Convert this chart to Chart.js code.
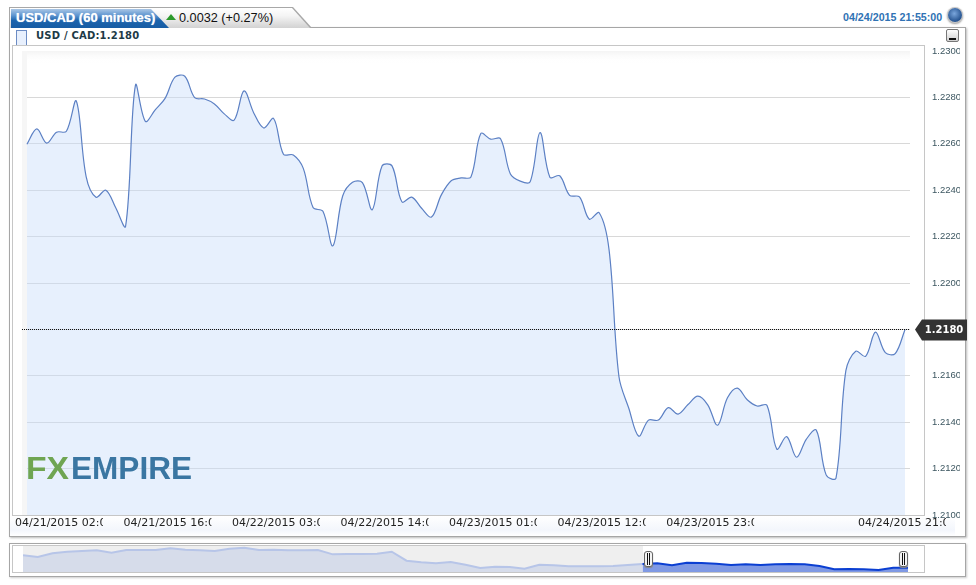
<!DOCTYPE html>
<html>
<head>
<meta charset="utf-8">
<title>USD/CAD (60 minutes)</title>
<script src="https://cdn.jsdelivr.net/npm/chart.js@4/dist/chart.umd.min.js"></script>
<style>
  html, body { margin: 0; padding: 0; background: #fff; overflow: hidden; }
  #page { position: relative; width: 976px; height: 585px; overflow: hidden; }
  #page div, #page span { position: absolute; box-sizing: border-box; }
  canvas { position: absolute; }

  /* tabs */
  #tabShadow { left: 9px; top: 7px; width: 303px; height: 21px; background: #a8a8a8;
    clip-path: polygon(0 0, 284px 0, 303px 21px, 0 21px); }
  #tabGray { left: 10px; top: 8px; width: 300px; height: 20px;
    background: linear-gradient(#ffffff, #f4f4f4 40%, #d2d2d2);
    clip-path: polygon(0 0, 282px 0, 300px 20px, 0 20px); }
  #tabBlue { left: 11px; top: 9px; width: 158px; height: 19px;
    background: linear-gradient(#a9c6e6, #5b93cf 35%, #1c64ad 60%, #175ca4);
    clip-path: polygon(0 0, 140px 0, 158px 19px, 0 19px); }
  #tabTitle { left: 16px; top: 10px; font: bold 13px "Liberation Sans", sans-serif; color: #fff;
    white-space: nowrap; text-shadow: 0 0 1px #cfe0f2; }
  #changeArrow { left: 166px; top: 14px; width: 0; height: 0;
    border-left: 5px solid transparent; border-right: 5px solid transparent; border-bottom: 6px solid #2c9a2c; }
  #changeText { left: 179px; top: 11px; font: 12.7px "Liberation Sans", sans-serif; color: #111; white-space: nowrap; }
  #stamp { left: 843px; top: 11px; font: bold 10.7px "Liberation Sans", sans-serif; color: #2f72b4; white-space: nowrap; }
  #globe { left: 948px; top: 8px; width: 14px; height: 14px; border-radius: 50%;
    background: radial-gradient(circle at 45% 40%, #7aa6dc, #24528f 70%, #173a6b);
    box-shadow: 0 0 0 1px #c8c8c8, 0 1px 2px 1px #999; }

  /* main panel */
  #panel { left: 9px; top: 27px; width: 957px; height: 510px; border: 1px solid #a6a6a6;
    background: #fff; box-shadow: 1px 1px 2px #bbb; }
  #axisRow { left: 10px; top: 516px; width: 945px; height: 20px;
    background: linear-gradient(#ffffff, #f3f6fc 70%, #ffffff); }
  #plotFrame { left: 12px; top: 45px; width: 913px; height: 471px; border: 1px solid #c6c6c6; }
  #swatch { left: 16px; top: 30px; width: 11px; height: 15px; background: #e8f0fd;
    border: 1px solid #6c8cc4; border-bottom: none; }
  #seriesName { left: 36px; top: 30px; font: bold 10px "DejaVu Sans", sans-serif; color: #1d3a46; white-space: nowrap; letter-spacing: 0.2px; }
  #minBtn { left: 946px; top: 29px; width: 13px; height: 13px; border: 1px solid #777; border-radius: 2px;
    background: linear-gradient(#fff, #d0d0d0); }
  #minBar { left: 2px; top: 8px; width: 7px; height: 2px; background: #111; }

  /* navigator panel */
  #navPanel { left: 9px; top: 543px; width: 957px; height: 34px; border: 1px solid #a6a6a6; background: #fff;
    box-shadow: 1px 1px 2px #ccc; }
  #navFrame { left: 12px; top: 545px; width: 913px; height: 28px; border: 1px solid #c6c6c6; }
  #navShade { left: 23px; top: 546px; width: 620px; height: 26px; background: #efefef; }
  .handle { top: 551px; width: 9px; height: 16px; border: 1px solid #666; border-radius: 3px;
    background: #f4f4f4; box-shadow: 0 1px 1px #888; }
  .handle span { top: 1px; width: 1px; height: 12px; background: #111; }
</style>
</head>
<body>
<div id="page">
  <div id="panel"></div>
  <div id="tabShadow"></div>
  <div id="tabGray"></div>
  <div id="tabBlue"></div>
  <div id="tabTitle">USD/CAD (60 minutes)</div>
  <div id="changeArrow"></div>
  <div id="changeText">0.0032 (+0.27%)</div>
  <div id="stamp">04/24/2015 21:55:00</div>
  <div id="globe"></div>
  <div id="axisRow"></div>
  <div id="plotFrame"></div>
  <div id="swatch"></div>
  <div id="seriesName">USD / CAD:1.2180</div>
  <div id="minBtn"><div id="minBar"></div></div>

  <div id="navPanel"></div>
  <div id="navFrame"></div>
  <div id="navShade"></div>

  <canvas id="mainChart" width="976" height="585" style="left:0;top:0"></canvas>
  <canvas id="navChart" width="885" height="26" style="left:23px;top:546px"></canvas>

  <div class="handle" style="left:644px"><span style="left:2px"></span><span style="left:4px"></span></div>
  <div class="handle" style="left:899px"><span style="left:2px"></span><span style="left:4px"></span></div>
</div>

<script>
// hourly closes
const closeValues = [
  1.22598, 1.22664, 1.22603, 1.22650, 1.22654, 1.22784, 1.22459, 1.22370, 1.22400, 1.22324,
  1.22245, 1.22853, 1.22697, 1.22746, 1.22796, 1.22887, 1.22891, 1.22799, 1.22793, 1.22772,
  1.22729, 1.22702, 1.22828, 1.22732, 1.22668, 1.22709, 1.22555, 1.22552, 1.22495, 1.22325,
  1.22309, 1.22160, 1.22375, 1.22434, 1.22433, 1.22316, 1.22505, 1.22505, 1.22350, 1.22370,
  1.22322, 1.22284, 1.22380, 1.22441, 1.22453, 1.22457, 1.22644, 1.22620, 1.22622, 1.22470,
  1.22439, 1.22436, 1.22648, 1.22456, 1.22462, 1.22378, 1.22371, 1.22275, 1.22303, 1.22143,
  1.21597, 1.21460, 1.21340, 1.21409, 1.21409, 1.21463, 1.21435, 1.21476, 1.21512, 1.21475,
  1.21387, 1.21505, 1.21547, 1.21497, 1.21470, 1.21473, 1.21284, 1.21338, 1.21249, 1.21327,
  1.21366, 1.21173, 1.21159, 1.21622, 1.21706, 1.21684, 1.21788, 1.21700, 1.21696, 1.21800
];
const tickPoints = [0, 11, 22, 33, 44, 55, 66, 89];
const tickLabels = [
  "04/21/2015 02:00", "04/21/2015 16:00", "04/22/2015 03:00", "04/22/2015 14:00",
  "04/23/2015 01:00", "04/23/2015 12:00", "04/23/2015 23:00", "04/24/2015 21:00"
];
const lastPrice = 1.2180;

// overview strip
const navValues = [
  1.2464, 1.2424, 1.2511, 1.2550, 1.2566, 1.2582, 1.2527, 1.2590, 1.2590, 1.2590,
  1.2630, 1.2598, 1.2582, 1.2566, 1.2622, 1.2645, 1.2590, 1.2598, 1.2582, 1.2582,
  1.2590, 1.2487, 1.2495, 1.2495, 1.2503, 1.2550, 1.2337, 1.2298, 1.2274, 1.2306,
  1.2242, 1.2163, 1.2195, 1.2187, 1.2148, 1.2242, 1.2227, 1.2203, 1.2203, 1.2203,
  1.2211, 1.2235, 1.2258, 1.2274, 1.2227, 1.2290, 1.2282, 1.2266, 1.2235, 1.2250,
  1.2235, 1.2250, 1.2258, 1.2250, 1.2211, 1.2132, 1.2140, 1.2132, 1.2116, 1.2171,
  1.2171
];
const navSelectedFrom = 42;

const categories = closeValues.map((_, i) => i);

// plot background, current price line and tag, date labels, logo
const plotDecor = {
  id: "plotDecor",
  beforeDatasetsDraw(chart) {
    const { ctx, chartArea: a } = chart;
    ctx.save();
    const top = ctx.createLinearGradient(0, a.top, 0, a.top + 12);
    top.addColorStop(0, "#f4f4f4");
    top.addColorStop(1, "rgba(255,255,255,0)");
    ctx.fillStyle = top;
    ctx.fillRect(a.left, a.top, a.right - a.left, 12);
    ctx.fillStyle = "#f6f6f6";
    ctx.fillRect(a.left, a.top, 5, a.bottom - a.top);
    ctx.restore();
  },
  afterDatasetsDraw(chart) {
    const { ctx, chartArea: a, scales } = chart;
    const y = Math.round(scales.y.getPixelForValue(lastPrice)) + 0.5;
    ctx.save();
    ctx.strokeStyle = "#111";
    ctx.setLineDash([1, 1]);
    ctx.beginPath();
    ctx.moveTo(a.left, y);
    ctx.lineTo(a.right, y);
    ctx.stroke();
    ctx.setLineDash([]);

    // price tag
    ctx.fillStyle = "#333";
    ctx.beginPath();
    ctx.moveTo(915, y);
    ctx.lineTo(922, y - 10);
    ctx.lineTo(967, y - 10);
    ctx.lineTo(967, y + 11);
    ctx.lineTo(922, y + 11);
    ctx.closePath();
    ctx.fill();
    ctx.fillStyle = "#fff";
    ctx.font = "bold 10px 'DejaVu Sans'";
    ctx.textAlign = "center";
    ctx.textBaseline = "middle";
    ctx.fillText(lastPrice.toFixed(4), 944, y + 0.5);

    // date labels are cut off on the right like the original widget
    ctx.font = "11px 'DejaVu Sans'";
    ctx.textAlign = "left";
    ctx.fillStyle = "#222";
    tickPoints.forEach((p, i) => {
      const lx = Math.min(scales.x.getPixelForValue(p) - 12, a.right - 52);
      ctx.save();
      ctx.beginPath();
      ctx.rect(lx, 516, 88, 16);
      ctx.clip();
      ctx.fillText(tickLabels[i], lx, 523.5);
      ctx.restore();
    });

    drawLogoWord(ctx, "FX", "#6fa552", 26, 69);
    drawLogoWord(ctx, "EMPIRE", "#3a76a2", 71, 192);
    ctx.restore();
  }
};

function drawLogoWord(ctx, word, color, x0, x1) {
  ctx.save();
  ctx.font = "bold 31px 'Liberation Sans'";
  ctx.textAlign = "left";
  ctx.textBaseline = "alphabetic";
  ctx.fillStyle = color;
  const w = ctx.measureText(word).width;
  ctx.translate(x0, 479);
  ctx.scale((x1 - x0) / w, 1);
  ctx.fillText(word, 0, 0);
  ctx.restore();
}

new Chart(document.getElementById("mainChart"), {
  type: "line",
  data: {
    labels: categories,
    datasets: [{
      data: closeValues,
      borderColor: "#5c80c4",
      borderWidth: 1.2,
      backgroundColor: "rgba(200,220,250,0.43)",
      fill: "start",
      tension: 0.35,
      pointRadius: 0
    }]
  },
  options: {
    responsive: false,
    animation: false,
    layout: { padding: { left: 22, right: 16, top: 51, bottom: 70 } },
    plugins: { legend: { display: false }, tooltip: { enabled: false } },
    scales: {
      x: {
        type: "category",
        offset: true,
        grid: { display: false },
        border: { display: false },
        ticks: { display: false },
        afterFit(s) { s.height = 0; }
      },
      y: {
        position: "right",
        min: 1.21,
        max: 1.23,
        grid: {
          drawTicks: false,
          tickLength: 0,
          color: (c) => (c.index === 0 || c.index === 10 ? "rgba(0,0,0,0)" : "#d8d8d8")
        },
        border: { display: false },
        ticks: {
          stepSize: 0.002,
          padding: 22,
          color: "#3c5660",
          font: { family: "Liberation Sans", size: 9.5 },
          callback: (v) => v.toFixed(4)
        },
        afterFit(s) { s.width = 50; }
      }
    }
  },
  plugins: [plotDecor]
});

new Chart(document.getElementById("navChart"), {
  type: "line",
  data: {
    labels: navValues.map((_, i) => i),
    datasets: [
      {
        data: navValues.map((v, i) => (i >= navSelectedFrom ? v : null)),
        borderColor: "#0b3fd2",
        borderWidth: 2,
        backgroundColor: "#7f99e4",
        fill: "start",
        pointRadius: 0,
        tension: 0
      },
      {
        data: navValues.map((v, i) => (i <= navSelectedFrom ? v : null)),
        borderColor: "#b7c5e8",
        borderWidth: 2,
        backgroundColor: "#d6dcea",
        fill: "start",
        pointRadius: 0,
        tension: 0
      }
    ]
  },
  options: {
    responsive: false,
    animation: false,
    layout: { padding: 0 },
    plugins: { legend: { display: false }, tooltip: { enabled: false } },
    scales: {
      x: { display: false },
      y: { display: false, min: 1.2069, max: 1.2685 }
    }
  }
});
</script>
</body>
</html>
